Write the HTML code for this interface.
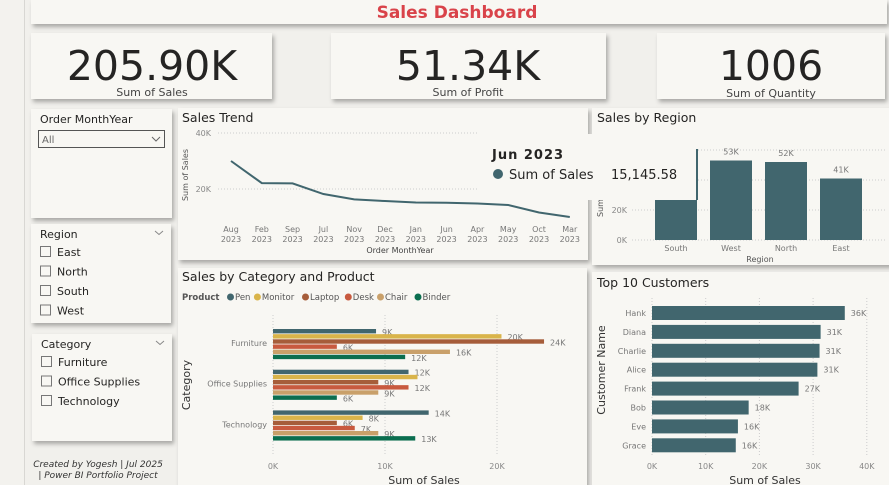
<!DOCTYPE html>
<html><head><meta charset="utf-8"><style>
body{margin:0;width:889px;height:485px;overflow:hidden;background:#eeede9;font-family:"DejaVu Sans","Liberation Sans",sans-serif;}
svg{position:absolute;left:0;top:0}
</style></head><body>
<svg id="s" width="889" height="485" xmlns="http://www.w3.org/2000/svg" font-family="DejaVu Sans, Liberation Sans, sans-serif">
<defs><filter id="sh" x="-5%" y="-5%" width="115%" height="125%"><feDropShadow dx="2" dy="3" stdDeviation="2" flood-color="#000" flood-opacity="0.3"/></filter></defs>
<rect x="0" y="0" width="889" height="485" fill="#f3f2ee"/>
<rect x="24" y="0" width="865" height="485" fill="#f1f0ec"/>
<line x1="24.5" y1="0" x2="24.5" y2="485" stroke="#d8d7d3"/>
<g id="panels" fill="#f8f7f3" filter="url(#sh)">
<rect x="31" y="0" width="856" height="24"/>
<rect x="31" y="33" width="241" height="66"/>
<rect x="331" y="33" width="275" height="66"/>
<rect x="657" y="33" width="228" height="66"/>
<rect x="31" y="109" width="141" height="109"/>
<rect x="31" y="224" width="140" height="99"/>
<rect x="32" y="334" width="140" height="107"/>
<rect x="178" y="108" width="410" height="152"/>
<rect x="178" y="268" width="409" height="220"/>
<rect x="592" y="108" width="300" height="157"/>
<rect x="592" y="272" width="300" height="216"/>
</g>
<text x="457" y="18" text-anchor="middle" font-size="17" font-weight="bold" fill="#d9434a">Sales Dashboard</text>
<g fill="#252423" text-anchor="middle">
<text x="152" y="80" font-size="41">205.90K</text>
<text x="152" y="96" font-size="11" fill="#444">Sum of Sales</text>
<text x="468" y="80" font-size="41">51.34K</text>
<text x="468" y="96" font-size="11" fill="#444">Sum of Profit</text>
<text x="771" y="80" font-size="41">1006</text>
<text x="771" y="97" font-size="11" fill="#444">Sum of Quantity</text>
</g>
<g font-size="11" fill="#252423">
<text x="40" y="123">Order MonthYear</text>
<g><rect x="38.5" y="130.5" width="126" height="17" fill="none" stroke="#555"/><text x="42" y="143" font-size="10" fill="#666">All</text><path d="M152 137 l4 4 l4 -4" fill="none" stroke="#666"/></g>
<text x="40" y="238">Region</text>
<path d="M155 231 l4 3.5 l4 -3.5" fill="none" stroke="#888"/>
<text x="41" y="348">Category</text>
<path d="M156 341 l4 3.5 l4 -3.5" fill="none" stroke="#888"/>
</g>
<g id="checks" font-size="11" fill="#252423"></g>
<text font-size="9" font-style="italic" fill="#333" x="98" y="467" text-anchor="middle">Created by Yogesh | Jul 2025</text>
<text font-size="9" font-style="italic" fill="#333" x="98" y="478" text-anchor="middle">| Power BI Portfolio Project</text>
<g id="trend"></g>
<g id="region"></g>
<g id="cat"></g>
<g id="cust"></g>
<g id="tooltip"></g>
</svg>
<script>
const NS="http://www.w3.org/2000/svg";
function mk(parent,tag,attrs,txt){const e=document.createElementNS(NS,tag);for(const k in attrs)e.setAttribute(k,attrs[k]);if(txt!==undefined)e.textContent=txt;parent.appendChild(e);return e;}
const $=id=>document.getElementById(id);

// Slicer items
const regionItems=["East","North","South","West"];
const categoryItems=["Furniture","Office Supplies","Technology"];
regionItems.forEach((r,i)=>{const g=mk($("checks"),"g",{});


const y=252+i*19.5;mk(g,"rect",{x:40.5,y:y-5.5,width:10,height:10,fill:"none",stroke:"#777"});mk(g,"text",{x:57,y:y+4},r);});
categoryItems.forEach((r,i)=>{const g=mk($("checks"),"g",{});


const y=362+i*19.5;mk(g,"rect",{x:41.5,y:y-5.5,width:10,height:10,fill:"none",stroke:"#777"});mk(g,"text",{x:58,y:y+4},r);});

// ---- Sales Trend ----
const trendMonths=["Aug","Feb","Sep","Jul","Nov","Dec","Jan","Jun","Apr","May","Oct","Mar"];
const trendYears=["2023","2023","2023","2023","2023","2023","2023","2023","2023","2023","2023","2023"];
const trendValues=[30.0,22.1,22.0,18.2,16.3,15.7,15.2,15.1,14.8,14.3,11.6,10.0];
const trendTicks=[20,40];
(function(){const g=$("trend");
mk(g,"text",{x:182,y:122,"font-size":12.5,fill:"#252423"},"Sales Trend");
const ty=v=>245-v*2.8, tx=i=>231+i*30.8;
trendTicks.forEach(t=>{mk(g,"line",{x1:218,x2:477,y1:ty(t),y2:ty(t),stroke:"#ccc","stroke-dasharray":"1 2"});
mk(g,"text",{x:211,y:ty(t)+3,"font-size":8,fill:"#888","text-anchor":"end"},t+"K");});
let d="";trendValues.forEach((v,i)=>{d+=(i?"L":"M")+tx(i)+" "+ty(v);});
const p=mk(g,"path",{d:d,fill:"none",stroke:"#41666e","stroke-width":2});


trendMonths.forEach((m,i)=>{mk(g,"text",{x:tx(i),y:232,"font-size":8,fill:"#777","text-anchor":"middle"},m);
mk(g,"text",{x:tx(i),y:242,"font-size":8,fill:"#777","text-anchor":"middle"},trendYears[i]);});
mk(g,"text",{x:400,y:253,"font-size":8,fill:"#444","text-anchor":"middle"},"Order MonthYear");
mk(g,"text",{x:0,y:0,"font-size":8,fill:"#555","text-anchor":"middle",transform:"translate(188,175) rotate(-90)"},"Sum of Sales");
})();

// ---- Sales by Region ----
const regions=["South","West","North","East"];
const regionValues=[60,53,52,41];
const regionLabels=["60K","53K","52K","41K"];
const regionTicks=[0,20,40,60];
(function(){const g=$("region");
mk(g,"text",{x:597,y:122,"font-size":12.5,fill:"#252423"},"Sales by Region");
const ry=v=>240-v*1.5, rx=i=>655+i*55;
regionTicks.forEach(t=>{mk(g,"line",{x1:632,x2:885,y1:ry(t),y2:ry(t),stroke:"#ccc","stroke-dasharray":"1 2"});
mk(g,"text",{x:627,y:ry(t)+3,"font-size":8,fill:"#888","text-anchor":"end"},t+"K");});
regions.forEach((r,i)=>{const b=mk(g,"rect",{x:rx(i),y:ry(regionValues[i]),width:42,height:regionValues[i]*1.5,fill:"#41666e"});


mk(g,"text",{x:rx(i)+21,y:ry(regionValues[i])-6,"font-size":8,fill:"#777","text-anchor":"middle"},regionLabels[i]);
mk(g,"text",{x:rx(i)+21,y:251,"font-size":8,fill:"#777","text-anchor":"middle"},r);});
mk(g,"text",{x:760,y:262,"font-size":8,fill:"#555","text-anchor":"middle"},"Region");
mk(g,"text",{x:0,y:0,"font-size":8,fill:"#555","text-anchor":"middle",transform:"translate(603,208) rotate(-90)"},"Sum");
})();

// ---- Tooltip ----
(function(){const g=$("tooltip");


mk(g,"rect",{x:482,y:134,width:214,height:66,fill:"#f8f7f3"});
mk(g,"line",{x1:697,y1:149,x2:697,y2:200,stroke:"#41666e","stroke-width":2});
mk(g,"text",{x:492,y:159,"font-size":13,"font-weight":"bold",fill:"#252423","letter-spacing":"1"},"Jun 2023");
mk(g,"circle",{cx:498,cy:174,r:5,fill:"#41666e"});
mk(g,"text",{x:509,y:179,"font-size":13,fill:"#252423"},"Sum of Sales");
mk(g,"text",{x:611,y:179,"font-size":13,fill:"#252423"},"15,145.58");
})();

// ---- Sales by Category and Product ----
const categories=["Furniture","Office Supplies","Technology"];
const products=["Pen","Monitor","Laptop","Desk","Chair","Binder"];
const productColors=["#41666e","#d9b44a","#a65d3a","#c85a3f","#c9a06a","#0b6e4f"];
const penValues=[9.2,12.1,13.9];
const monitorValues=[20.4,12.9,8.0];
const laptopValues=[24.2,9.4,5.7];
const deskValues=[5.7,12.1,7.3];
const chairValues=[15.8,9.4,9.4];
const binderValues=[11.8,5.7,12.7];
const catTicks=[0,10,20];
(function(){const g=$("cat");const series=[penValues,monitorValues,laptopValues,deskValues,chairValues,binderValues];
mk(g,"text",{x:182,y:281,"font-size":12.5,fill:"#252423"},"Sales by Category and Product");
mk(g,"text",{x:182,y:300,"font-size":8.5,"font-weight":"bold",fill:"#555"},"Product");
let lx=227;products.forEach((p,i)=>{const le=mk(g,"g",{});


mk(le,"circle",{cx:lx+3.5,cy:297,r:3.5,fill:productColors[i]});
mk(le,"text",{x:lx+8,y:300,"font-size":8.5,fill:"#555"},p);lx+=8+p.length*5.3+3;});
const cx=v=>273+v*11.2;
catTicks.forEach(t=>{mk(g,"line",{x1:cx(t),x2:cx(t),y1:315,y2:455,stroke:"#ccc","stroke-dasharray":"1 2"});
mk(g,"text",{x:cx(t),y:469,"font-size":8,fill:"#888","text-anchor":"middle"},t+"K");});
categories.forEach((c,ci)=>{const base=329+ci*40.7;
mk(g,"text",{x:267,y:base+17,"font-size":8,fill:"#777","text-anchor":"end"},c);
series.forEach((s,si)=>{const y=base+si*5.15;
const b=mk(g,"rect",{x:cx(0),y:y,width:s[ci]*11.2,height:4.4,fill:productColors[si]});


if(!(ci===1&&si===1))mk(g,"text",{x:cx(s[ci])+6,y:y+6,"font-size":8,fill:"#777"},Math.round(s[ci])+"K");});});
mk(g,"text",{x:424,y:484,"font-size":11,fill:"#333","text-anchor":"middle"},"Sum of Sales");
mk(g,"text",{x:0,y:0,"font-size":11,fill:"#333","text-anchor":"middle",transform:"translate(190,385) rotate(-90)"},"Category");
})();

// ---- Top 10 Customers ----
const customers=["Hank","Diana","Charlie","Alice","Frank","Bob","Eve","Grace"];
const customerValues=[35.9,31.4,31.2,30.8,27.3,18.0,16.0,15.6];
const customerLabels=["36K","31K","31K","31K","27K","18K","16K","16K"];
const custTicks=[0,10,20,30,40];
(function(){const g=$("cust");
mk(g,"text",{x:597,y:287,"font-size":12.5,fill:"#252423"},"Top 10 Customers");
const ux=v=>652+v*5.37;
custTicks.forEach(t=>{mk(g,"line",{x1:ux(t),x2:ux(t),y1:298,y2:455,stroke:"#ccc","stroke-dasharray":"1 2"});
mk(g,"text",{x:ux(t),y:469,"font-size":8,fill:"#888","text-anchor":"middle"},t+"K");});
customers.forEach((c,i)=>{const y=306+i*18.9;
const b=mk(g,"rect",{x:ux(0),y:y,width:customerValues[i]*5.37,height:14,fill:"#41666e"});


mk(g,"text",{x:646,y:y+10,"font-size":8,fill:"#777","text-anchor":"end"},c);
mk(g,"text",{x:ux(customerValues[i])+6,y:y+10,"font-size":8,fill:"#777"},customerLabels[i]);});
mk(g,"text",{x:765,y:484,"font-size":11,fill:"#333","text-anchor":"middle"},"Sum of Sales");
mk(g,"text",{x:0,y:0,"font-size":11,fill:"#333","text-anchor":"middle",transform:"translate(605,370) rotate(-90)"},"Customer Name");
})();
</script>
</body></html>
